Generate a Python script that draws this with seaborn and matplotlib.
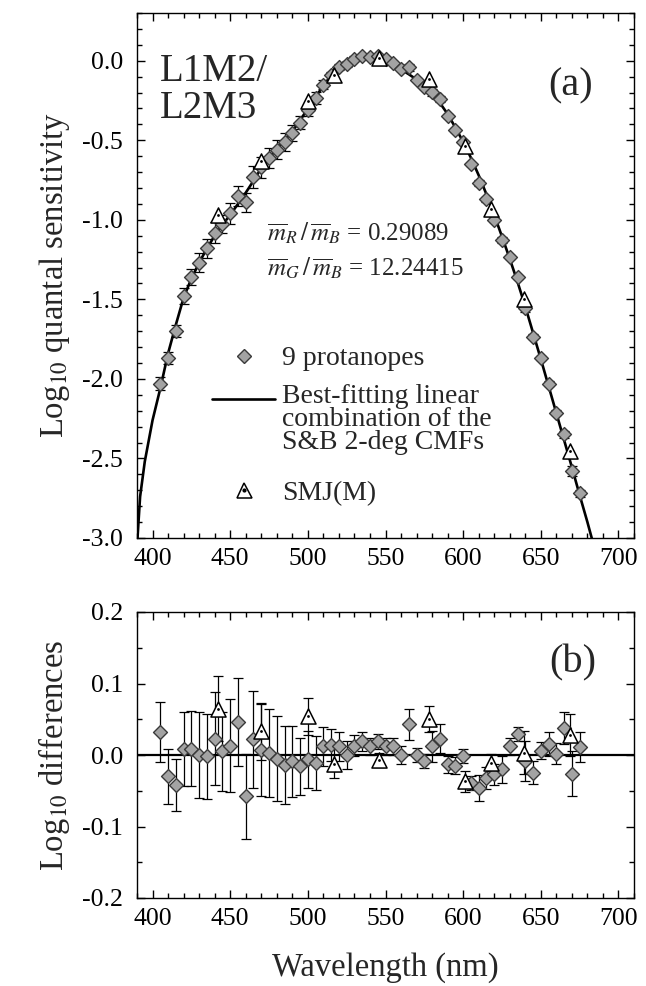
import matplotlib
matplotlib.use("Agg")
import matplotlib.pyplot as plt
import matplotlib.transforms as mtransforms
from matplotlib.ticker import MultipleLocator
from matplotlib.lines import Line2D
from matplotlib.legend_handler import HandlerLine2D
import seaborn as sns

# ---------------- data ----------------
curve_wl = [390, 392, 395, 400, 405, 410, 415, 420, 425, 430, 435, 440, 445, 450,
            455, 460, 465, 470, 475, 480, 485, 490, 495, 500, 505, 510, 515, 520,
            525, 530, 535, 540, 545, 550, 555, 560, 565, 570, 575, 580, 585, 590,
            595, 600, 605, 610, 615, 620, 625, 630, 635, 640, 645, 650, 655, 660,
            665, 670, 675, 680, 685]
curve_val = [-3.05, -2.74, -2.52, -2.26, -2.06, -1.84, -1.66, -1.49, -1.37, -1.27,
             -1.18, -1.10, -1.03, -0.97, -0.90, -0.83, -0.755, -0.675, -0.61, -0.555,
             -0.50, -0.445, -0.375, -0.30, -0.225, -0.16, -0.10, -0.05, -0.02, 0.0,
             0.01, 0.012, 0.01, 0.0, -0.025, -0.055, -0.085, -0.118, -0.158, -0.21,
             -0.265, -0.335, -0.42, -0.51, -0.61, -0.72, -0.84, -0.97, -1.105, -1.245,
             -1.39, -1.545, -1.71, -1.875, -2.045, -2.215, -2.385, -2.555, -2.73, -2.90,
             -3.08]

protan_wl = [405, 410, 415, 420, 425, 430, 435, 440, 445, 450,
             455, 460, 465, 470, 475, 480, 485, 490, 495, 500,
             505, 510, 515, 520, 525, 530, 535, 540, 545, 550,
             555, 560, 565, 570, 575, 580, 585, 590, 595, 600,
             605, 610, 615, 620, 625, 630, 635, 640, 645, 650,
             655, 660, 665, 670, 675]
protan_val = [-2.03, -1.87, -1.70, -1.48, -1.36, -1.27, -1.18, -1.08, -1.025, -0.96,
              -0.85, -0.89, -0.73, -0.67, -0.61, -0.56, -0.51, -0.455, -0.39, -0.31,
              -0.235, -0.15, -0.09, -0.04, -0.02, 0.013, 0.03, 0.024, 0.03, 0.012,
              -0.013, -0.055, -0.042, -0.118, -0.166, -0.198, -0.242, -0.348, -0.435, -0.51,
              -0.65, -0.77, -0.87, -1.00, -1.125, -1.233, -1.36, -1.553, -1.735, -1.869,
              -2.03, -2.213, -2.347, -2.581, -2.719]
protan_diff = [0.032, -0.030, -0.042, 0.008, 0.009, 0.000, -0.002, 0.023, 0.005, 0.013,
               0.046, -0.058, 0.022, 0.007, 0.003, -0.005, -0.014, -0.009, -0.016, -0.006,
               -0.011, 0.012, 0.014, 0.012, 0.000, 0.013, 0.019, 0.012, 0.019, 0.012,
               0.012, 0.000, 0.043, 0.000, -0.008, 0.012, 0.023, -0.013, -0.015, -0.001,
               -0.039, -0.046, -0.032, -0.027, -0.020, 0.012, 0.029, -0.008, -0.025, 0.006,
               0.015, 0.002, 0.038, -0.026, 0.011]
protan_err = [0.042, 0.038, 0.036, 0.052, 0.052, 0.060, 0.059, 0.065, 0.055, 0.065,
              0.062, 0.060, 0.068, 0.064, 0.062, 0.060, 0.055, 0.050, 0.040, 0.040,
              0.038, 0.027, 0.022, 0.020, 0.020, 0.015, 0.013, 0.012, 0.010, 0.012,
              0.012, 0.012, 0.022, 0.010, 0.010, 0.022, 0.020, 0.012, 0.012, 0.010,
              0.010, 0.018, 0.015, 0.015, 0.019, 0.012, 0.010, 0.028, 0.016, 0.012,
              0.017, 0.015, 0.022, 0.032, 0.021]

smj_wl = [442, 470, 500, 517, 546, 578, 601, 618, 639, 669]
smj_val = [-0.97, -0.63, -0.25, -0.09, 0.02, -0.115, -0.535, -0.935, -1.50, -2.45]
smj_diff = [0.065, 0.033, 0.054, -0.012, -0.007, 0.050, -0.037, -0.011, 0.003, 0.028]
smj_err = [0.045, 0.040, 0.026, 0.020, 0.010, 0.018, 0.015, 0.012, 0.030, 0.030]

x_ticks = [400, 450, 500, 550, 600, 650, 700]
legend_labels = ["9 protanopes",
                 "Best-fitting linear\ncombination of the\nS&B 2-deg CMFs",
                 "SMJ(M)"]

# ---------------- style ----------------
sns.set_theme(style="ticks")
plt.rcParams["font.family"] = ["Liberation Serif", "DejaVu Serif"]
plt.rcParams["mathtext.fontset"] = "stix"
plt.rcParams["axes.unicode_minus"] = False
plt.rcParams["axes.linewidth"] = 1.0
plt.rcParams["axes.edgecolor"] = "black"

DIA_FACE = "#a3a3a3"
DIA_EDGE = "#3a3a3a"
TICK_FS = 18.5
LABEL_FS = 23.5
LEG_FS = 20

fig = plt.figure(figsize=(6.46, 9.86), dpi=100)
W, H = 646.0, 986.0
L, R = 137, 634
ax1 = fig.add_axes([L / W, 1 - 538 / H, (R - L) / W, 525 / H])
ax2 = fig.add_axes([L / W, 1 - 898 / H, (R - L) / W, 286 / H])


class RaisedLineHandler(HandlerLine2D):
    """Legend line drawn level with the first line of a multi-line label."""

    def __init__(self, dy_pt, **kw):
        super().__init__(**kw)
        self.dy_pt = dy_pt

    def create_artists(self, legend, orig_handle, xdescent, ydescent, width,
                       height, fontsize, trans):
        arts = super().create_artists(legend, orig_handle, xdescent, ydescent,
                                      width, height, fontsize, trans)
        shift = mtransforms.Affine2D().translate(0, self.dy_pt)
        for a in arts:
            a.set_transform(shift + trans)
        return arts


def draw_points(ax, wl, val, err, tri_wl, tri_val, tri_err):
    ax.errorbar(wl, val, yerr=err, fmt="none", ecolor="black", elinewidth=0.9,
                capsize=3.6, capthick=0.9, zorder=2)
    if tri_err is not None:
        ax.errorbar(tri_wl, tri_val, yerr=tri_err, fmt="none", ecolor="black",
                    elinewidth=0.9, capsize=3.6, capthick=0.9, zorder=2)
    sns.scatterplot(x=wl, y=val, ax=ax, marker="D", s=50, color=DIA_FACE,
                    edgecolor=DIA_EDGE, linewidth=1.0, zorder=3, legend=False)
    sns.scatterplot(x=tri_wl, y=tri_val, ax=ax, marker="^", s=118, color="white",
                    edgecolor="black", linewidth=1.1, zorder=4, legend=False)
    sns.scatterplot(x=tri_wl, y=tri_val, ax=ax, marker="o", s=4, color="black",
                    edgecolor="black", linewidth=0, zorder=5, legend=False)


# ---------------- top panel ----------------
sns.lineplot(x=curve_wl, y=curve_val, ax=ax1, color="black", linewidth=1.9,
             sort=False, estimator=None, zorder=1.5)
draw_points(ax1, protan_wl, protan_val, protan_err, smj_wl, smj_val, None)
ax1.set_xlim(390, 710)
ax1.set_ylim(-3.0, 0.3)
ax1.yaxis.set_minor_locator(MultipleLocator(0.1))
ax1.set_yticks([0.0, -0.5, -1.0, -1.5, -2.0, -2.5, -3.0])
ax1.set_yticklabels(["0.0", "-0.5", "-1.0", "-1.5", "-2.0", "-2.5", "-3.0"])
ax1.set_ylabel(r"Log$_{10}$ quantal sensitivity", fontsize=LABEL_FS)

ax1.text(0.046, 0.853, "L1M2/\nL2M3", transform=ax1.transAxes, fontsize=28,
         ha="left", va="center", linespacing=0.98)
ax1.text(0.872, 0.861, "(a)", transform=ax1.transAxes, fontsize=29,
         ha="center", va="center")
ax1.text(0.262, 0.581, r"$\overline{m}_R\,/\,\overline{m}_B$ = 0.29089",
         transform=ax1.transAxes, fontsize=18, ha="left", va="center")
ax1.text(0.262, 0.514, r"$\overline{m}_G\,/\,\overline{m}_B$ = 12.24415",
         transform=ax1.transAxes, fontsize=18, ha="left", va="center")

h_dia = Line2D([], [], marker="D", linestyle="none", markersize=7.0,
               markerfacecolor=DIA_FACE, markeredgecolor=DIA_EDGE, markeredgewidth=1.0)
h_line = Line2D([], [], color="black", linewidth=1.9)
h_tri = Line2D([], [], marker="^", linestyle="none", markersize=10.8,
               markerfacecolor="white", markeredgecolor="black", markeredgewidth=1.1)
h_dot = Line2D([], [], marker="o", linestyle="none", markersize=2,
               markerfacecolor="black", markeredgecolor="black")

leg_kw = dict(frameon=False, fontsize=LEG_FS, handlelength=2.27,
              handletextpad=0.25, borderpad=0, borderaxespad=0)
leg_a = ax1.legend([h_dia, h_line], legend_labels[:2], loc="upper left",
                   bbox_to_anchor=(0.151, 0.366), labelspacing=0.44,
                   handler_map={h_line: RaisedLineHandler(14.6)}, **leg_kw)
for t in leg_a.get_texts():
    t.set_linespacing(0.9)
ax1.add_artist(leg_a)
ax1.legend([(h_tri, h_dot)], legend_labels[2:], loc="center left",
           bbox_to_anchor=(0.151, 0.0857), **leg_kw)

# ---------------- bottom panel ----------------
ax2.axhline(0.0, color="black", linewidth=1.6, zorder=1.5)
draw_points(ax2, protan_wl, protan_diff, protan_err, smj_wl, smj_diff, smj_err)
ax2.set_xlim(390, 710)
ax2.set_ylim(-0.2, 0.2)
ax2.yaxis.set_minor_locator(MultipleLocator(0.05))
ax2.set_yticks([0.2, 0.1, 0.0, -0.1, -0.2])
ax2.set_yticklabels(["0.2", "0.1", "0.0", "-0.1", "-0.2"])
ax2.set_ylabel(r"Log$_{10}$ differences", fontsize=LABEL_FS)
ax2.set_xlabel("Wavelength (nm)", fontsize=23.5)
ax2.text(0.877, 0.822, "(b)", transform=ax2.transAxes, fontsize=29,
         ha="center", va="center")

for ax in (ax1, ax2):
    ax.set_xticks(x_ticks)
    ax.set_xticklabels([str(v) for v in x_ticks])
    ax.xaxis.set_minor_locator(MultipleLocator(10))
    ax.tick_params(which="both", direction="in", top=True, right=True,
                   width=1.0, colors="black", labelsize=TICK_FS)
    ax.tick_params(which="major", length=6.0)
    ax.tick_params(which="minor", length=3.4)
    ax.tick_params(axis="x", which="major", pad=7)
    ax.tick_params(axis="y", which="major", pad=10)
    for s in ax.spines.values():
        s.set_linewidth(1.0)
        s.set_color("black")
    ax.yaxis.set_label_coords(-0.13, 0.5)
    ax.set_facecolor("white")

ax2.xaxis.set_label_coords(0.5, -0.19)

fig.savefig("out.png", dpi=100, facecolor="white")
